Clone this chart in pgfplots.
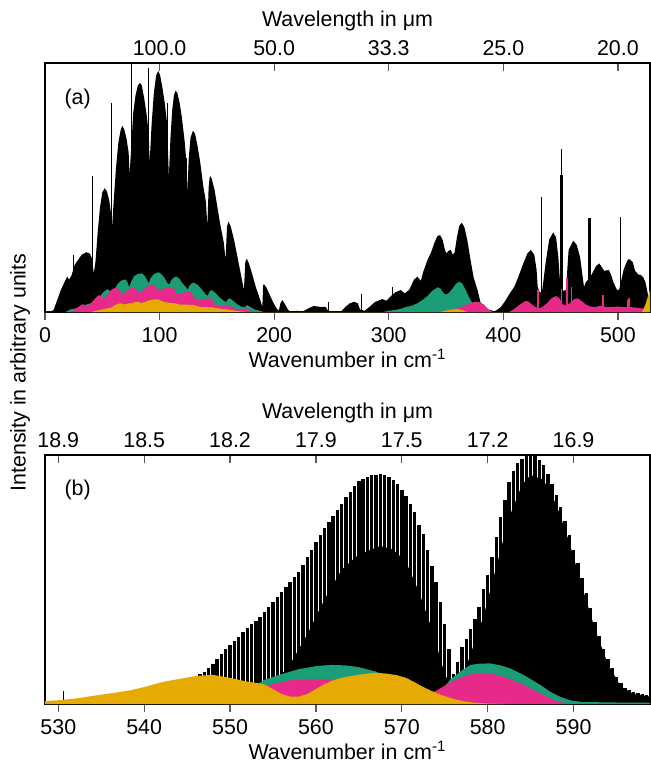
\documentclass[border=0pt]{standalone}
\usepackage{fontspec}
\setmainfont{Liberation Sans}
\usepackage{pgfplots}
\pgfplotsset{compat=1.18}

\definecolor{cgreen}{HTML}{1B9E77}
\definecolor{cpink}{HTML}{E7298A}
\definecolor{cgold}{HTML}{E6AB02}
\newcommand\fs{\fontsize{10.7}{12.8}\selectfont}

\pgfplotsset{
  panel/.style={
    scale only axis, width=302.5pt, height=124.5pt,
    ymin=0, ymax=1, ytick=\empty,
    xtick pos=bottom, tick align=outside,
    major tick length=4pt,
    tick style={black!65, line width=0.6pt},
    axis line style={line width=0.6pt},
    /pgf/number format/assume math mode=true,
    xlabel={Wavenumber in cm\textsuperscript{-1}},
    xlabel style={yshift=3.5pt},
  },
  toplam/.style={
    scale only axis, width=302.5pt, height=124.5pt,
    ymin=0, ymax=1,
    axis x line*=top, axis y line=none,
    tick align=inside, major tick length=4pt,
    tick style={black!65, line width=0.6pt},
    axis line style={line width=0.6pt},
    xlabel={Wavelength in μm},
    xlabel style={yshift=-2pt},
  },
}

\begin{document}
\begin{tikzpicture}[font=\fs]
\path[use as bounding box] (-22.5pt,31.5pt) rectangle (302.5pt,-349.5pt);

% ---- (a) ----
\begin{axis}[panel, at={(0,0)}, anchor=north west,
  xmin=0, xmax=528, xtick={0,100,200,300,400,500}]
% black
\addplot[fill=black, draw=none] coordinates {
(5,0) (7.7,0.01) (10,0.04) (14,0.09) (17,0.12) (19.4,0.142) (21,0.13) (23,0.145)
(26,0.19) (29,0.21) (32,0.23) (36,0.24) (39,0.235) (41,0.215) (42.6,0.155)
(44,0.2) (46,0.32) (48,0.42) (50,0.48) (52,0.497) (54,0.485) (56,0.45) (57.5,0.40)
(58,0.30) (60,0.45) (62,0.58) (64,0.68) (66,0.73) (67.4,0.748) (69,0.735) (71,0.70)
(73,0.64) (73.8,0.55) (75.5,0.68) (77,0.80) (79,0.87) (81,0.91) (82.8,0.92)
(84.5,0.91) (86.5,0.86) (88.5,0.80) (90.5,0.72) (91.3,0.597) (93,0.75) (95,0.88)
(97,0.95) (98.9,0.968) (100.5,0.95) (102.5,0.90) (104.5,0.84) (106.5,0.76)
(108.1,0.543) (109.5,0.70) (111,0.81) (112.5,0.87) (114,0.889) (115.5,0.88)
(117.5,0.84) (119.5,0.78) (122,0.68) (123.5,0.60) (124.2,0.477) (125.5,0.62)
(127,0.70) (129.1,0.728) (131,0.715) (133,0.67) (135.5,0.60) (138,0.51)
(140.5,0.44) (141.7,0.343) (142.8,0.50) (143.9,0.547) (145.5,0.535) (148,0.49)
(150.5,0.42) (153,0.35) (156,0.28) (157.6,0.209) (158.8,0.34) (160,0.363)
(162,0.345) (165,0.29) (168,0.22) (171,0.15) (173.6,0.088) (174.8,0.20)
(176,0.214) (178,0.195) (181,0.15) (184,0.10) (187,0.06) (189.7,0.021)
(190.3,0.105) (191,0.112) (193,0.10) (196,0.07) (199,0.04) (202,0.015)
(204,0.005) (205.5,0.035) (207,0.048) (209,0.035) (212,0.01) (214,0)
(220,0.005) (225,0.002) (230,0.015) (234.5,0.024) (238,0.022) (242,0.02)
(245,0.021) (247,0.005) (250,0) (258,0) (262,0.02) (266,0.035) (269.7,0.041)
(273,0.035) (275,0.01) (279,0.005) (283,0.02) (288,0.04) (294.5,0.052)
(298,0.045) (301,0.06) (306,0.08) (310.5,0.088) (314,0.075) (318,0.09)
(322,0.13) (325,0.142) (328,0.125) (330,0.16) (333.8,0.209) (337,0.24)
(340,0.28) (342.5,0.305) (344.8,0.309) (347,0.29) (349,0.25) (350.4,0.235)
(352,0.245) (354,0.25) (356,0.23) (357.5,0.24) (359.5,0.30) (361.5,0.345)
(363.8,0.359) (366,0.34) (368.5,0.29) (371,0.22) (374,0.14) (377.5,0.088)
(380,0.04) (382,0.02) (386,0.01) (389,0.008) (392,0.002) (395,0.01)
(397.8,0.02) (401,0.04) (405,0.07) (409.4,0.10) (413,0.14) (417,0.19)
(421,0.235) (424,0.249) (427,0.23) (429,0.17) (430,0.10) (432,0.076) (434,0.09)
(437,0.20) (440,0.29) (443.5,0.32) (446,0.30) (448,0.22) (449.5,0.12)
(452,0.085) (454.6,0.088) (457,0.25) (461,0.286) (464,0.27) (467,0.22)
(470.4,0.10) (472,0.12) (474,0.13) (477,0.15) (481,0.185) (483.7,0.195)
(486,0.18) (488,0.165) (492,0.169) (494,0.15) (496,0.12) (499,0.09)
(501,0.088) (505,0.17) (508,0.205) (509.6,0.213) (513,0.20) (515,0.165)
(518,0.15) (520,0.149) (522,0.14) (524,0.12) (526,0.075) (527,0.04) (528,0.03)
} \closedcycle;
\addplot[ycomb, black, line width=0.5pt] coordinates {
(25,0.23) (41.8,0.546) (58.1,0.84) (75.3,1.0) (90.7,0.98) (107.3,0.84)
(123.3,0.617) (247,0.04) (276,0.072) (303,0.10) (433,0.463) (450.8,0.653)
(502.6,0.383)
};
\addplot[ycomb, black, line width=1.5pt] coordinates {
(450.5,0.55) (475,0.376)
};
% green
\addplot[fill=cgreen, draw=none] coordinates {
(18,0) (22,0.01) (27,0.015) (32,0.02) (36,0.03) (40,0.035) (44,0.04) (47,0.055)
(50,0.075) (53,0.088) (54.9,0.091) (56.5,0.085) (58,0.06) (60,0.085) (63,0.11)
(66,0.125) (69.7,0.131) (71.5,0.125) (73.5,0.10) (75,0.12) (78,0.145) (81,0.153)
(84.3,0.155) (86.5,0.148) (89,0.13) (90.5,0.115) (92,0.135) (95,0.152)
(97.5,0.158) (99.4,0.159) (102,0.15) (104.5,0.135) (107,0.115) (108.5,0.11)
(110.5,0.13) (113,0.14) (114.6,0.142) (117,0.135) (120,0.115) (123,0.10)
(124.5,0.09) (126,0.105) (128,0.115) (130,0.118) (133,0.11) (137,0.09)
(140.5,0.07) (142,0.065) (144,0.085) (145.4,0.088) (148,0.08) (152,0.06)
(156,0.045) (158,0.04) (160,0.053) (161.4,0.055) (164,0.045) (168,0.03)
(172,0.02) (174.5,0.02) (176.6,0.028) (179,0.02) (183,0.01) (188,0.004) (191,0)
(295,0) (300,0.005) (305,0.008) (310,0.012) (315,0.02) (320,0.025) (325,0.035)
(330,0.05) (334,0.065) (338,0.085) (342.5,0.099) (345,0.095) (348,0.075)
(350,0.07) (352,0.075) (355,0.09) (358,0.11) (361.4,0.122) (364,0.115)
(367,0.09) (370,0.06) (373,0.035) (376,0.015) (380,0.003) (383,0)
(428,0) (433,0.01) (438,0.02) (443,0.03) (447,0.035) (450,0.03) (455,0.025)
(460,0.03) (465,0.02) (470,0.01) (480,0.01) (490,0.012) (500,0.01) (510,0.012)
(520,0.01) (525,0.01) (528,0.01)
} \closedcycle;
\addplot[ycomb, cgreen, line width=0.8pt] coordinates {
(450.8,0.093) (459.5,0.10) (509,0.05)
};
% pink
\addplot[fill=cpink, draw=none] coordinates {
(22,0) (26,0.01) (29,0.02) (32.5,0.031) (35,0.028) (37,0.025) (40,0.035)
(43,0.05) (46,0.065) (47.5,0.068) (49.5,0.06) (51,0.05) (53,0.06) (56,0.08)
(59,0.093) (62.4,0.098) (64.5,0.092) (66.5,0.075) (68,0.07) (71,0.085)
(74,0.093) (76.5,0.096) (78.2,0.096) (80,0.09) (82,0.075) (84,0.08) (87,0.095)
(90,0.105) (92,0.108) (94.2,0.11) (96.5,0.105) (98.5,0.09) (100,0.085)
(103,0.092) (106,0.098) (108,0.10) (110.2,0.10) (112.5,0.093) (114.5,0.075)
(116.5,0.07) (119,0.075) (122,0.08) (124.5,0.082) (126.5,0.082) (128.5,0.073)
(130.5,0.055) (133,0.05) (136,0.05) (139,0.052) (142,0.054) (144.5,0.055)
(146.5,0.045) (149,0.03) (152,0.025) (155,0.025) (158,0.027) (160.5,0.028)
(163,0.02) (167,0.012) (171,0.012) (175,0.015) (178,0.008) (183,0)
(345,0) (350,0.005) (355,0.01) (360,0.015) (363,0.02) (366,0.025) (370,0.033)
(374,0.04) (377.5,0.041) (380,0.038) (383,0.03) (386,0.015) (389,0.005) (391,0)
(405,0) (409,0.01) (413,0.025) (417,0.038) (419.7,0.045) (422,0.042) (425,0.03)
(428,0.02) (431,0.015) (434,0.02) (438,0.035) (442,0.055) (446,0.064)
(449,0.055) (452,0.03) (455,0.025) (458,0.035) (462,0.052) (464.8,0.055)
(468,0.045) (472,0.03) (476,0.022) (480,0.02) (485,0.025) (490,0.02)
(495,0.02) (500,0.022) (505,0.02) (510,0.02) (515,0.018) (520,0.015)
(525,0.012) (528,0.01)
} \closedcycle;
\addplot[ycomb, cpink, line width=1pt] coordinates {
(430,0.088) (455.2,0.135) (486.6,0.068) (510,0.055)
};
% gold
\addplot[fill=cgold, draw=none] coordinates {
(40,0) (45,0.005) (50,0.01) (55,0.015) (58,0.018) (60,0.025) (63,0.032)
(66,0.035) (69,0.03) (72,0.033) (76,0.037) (79,0.04) (81.7,0.04) (84,0.036)
(87,0.04) (91,0.047) (94,0.05) (98,0.051) (101,0.046) (104,0.04) (107,0.038)
(110,0.036) (114,0.035) (117,0.03) (121,0.03) (125,0.029) (130,0.028)
(134,0.022) (138,0.02) (142,0.02) (146,0.02) (150,0.015) (155,0.012) (160,0.01)
(165,0.006) (170,0.003) (175,0)
(345,0) (350,0.006) (355,0.01) (360,0.012) (365,0.006) (368,0)
(521,0) (524,0.03) (526,0.06) (528,0.088)
} \closedcycle;
\node at (rel axis cs:0.054,0.855) {(a)};
\end{axis}
\begin{axis}[toplam, at={(0,0)}, anchor=north west,
  xmin=0, xmax=528, xtick={100,200,300,400,500},
  xticklabels={100.0,50.0,33.3,25.0,20.0}]
\end{axis}

% ---- (b) ----
\begin{axis}[panel, at={(0,-196pt)}, anchor=north west,
  xmin=528.45, xmax=598.9, xtick={530,540,550,560,570,580,590}]
% black: dense core of the two bands
\addplot[fill=black, draw=none] coordinates {
(552,0) (555,0.08) (557,0.16) (559,0.28) (561,0.42) (563,0.54) (565,0.6)
(567.5,0.635) (569,0.62) (570.5,0.57) (572,0.45) (573.5,0.3) (575,0.12)
(576,0.05) (577,0.1) (578,0.2) (579.5,0.35) (581,0.55) (582.5,0.75)
(584,0.88) (585,0.92) (586.5,0.9) (588,0.8) (589.5,0.65) (591,0.47)
(592.5,0.3) (594,0.16) (595.5,0.07) (597,0.04) (598.9,0.03)
} \closedcycle;
% black: individual lines
\addplot[ycomb, black, line width=0.85pt] coordinates {(530.6,0.052)};
\addplot[ycomb, black, line width=1.7pt] coordinates {
(545.0,0.095) (545.5,0.105) (546.0,0.11) (546.5,0.12) (547.0,0.13)
(547.5,0.145) (548.0,0.16) (548.5,0.18) (549.0,0.20) (549.5,0.22)
(550.0,0.238) (550.5,0.255) (551.0,0.27) (551.5,0.29) (552.0,0.305)
(552.5,0.32) (553.0,0.335) (553.5,0.35) (554.0,0.37) (554.5,0.39)
(555.0,0.41) (555.5,0.43) (556.0,0.45) (556.5,0.47) (557.0,0.49)
(557.5,0.51) (558.0,0.53) (558.5,0.56) (559.0,0.59) (559.5,0.62)
(560.0,0.65) (560.5,0.68) (561.0,0.705) (561.5,0.73) (562.0,0.755)
(562.5,0.78) (563.0,0.805) (563.5,0.83) (564.0,0.85) (564.5,0.875)
(565.0,0.895) (565.5,0.905) (566.0,0.912) (566.5,0.918) (567.0,0.92)
(567.5,0.922) (568.0,0.918) (568.5,0.91) (569.0,0.90) (569.5,0.885)
(570.0,0.86) (570.5,0.835) (571.0,0.805) (571.5,0.77) (572.0,0.72)
(572.5,0.683) (573.0,0.62) (573.5,0.555) (574.0,0.49) (574.5,0.41)
(575.0,0.32) (575.5,0.22) (576.0,0.12) (576.5,0.17) (577.0,0.23)
(577.5,0.26) (578.0,0.30) (578.5,0.34) (579.0,0.39) (579.5,0.46)
(580.0,0.52) (580.5,0.59) (581.0,0.67) (581.5,0.75) (582.0,0.82)
(582.5,0.89) (583.0,0.935) (583.5,0.968) (584.0,0.985) (584.5,0.995)
(585.0,1.0) (585.5,0.995) (586.0,0.98) (586.5,0.96) (587.0,0.925)
(587.5,0.885) (588.0,0.84) (588.5,0.79) (589.0,0.735) (589.5,0.68)
(590.0,0.62) (590.5,0.565) (591.0,0.505) (591.5,0.445) (592.0,0.385)
(592.5,0.33) (593.0,0.275) (593.5,0.22) (594.0,0.18) (594.5,0.145)
(595.0,0.11) (595.5,0.085) (596.0,0.065) (596.5,0.056) (597.0,0.05)
(597.5,0.045) (598.0,0.04) (598.5,0.037)
};
\addplot[fill=cgreen, draw=none] coordinates {
(550,0) (552,0.05) (553.9,0.096) (556,0.12) (558,0.14) (560,0.152)
(561.7,0.157) (563.5,0.155) (565,0.148) (567,0.13) (569,0.10) (571,0.06)
(573,0.03) (574.5,0.05) (575.7,0.10) (577,0.135) (578,0.157) (579,0.162)
(580.3,0.163) (581.5,0.155) (582.6,0.143) (584,0.12) (585,0.10) (586.2,0.075)
(587.3,0.049) (588.5,0.028) (589.6,0.015) (591,0.008) (595,0.006) (598.9,0.005)
} \closedcycle;
\addplot[fill=cpink, draw=none] coordinates {
(549,0) (551,0.03) (553,0.06) (555,0.08) (557,0.095) (559,0.10) (561,0.10)
(563,0.09) (565,0.07) (567,0.05) (569,0.03) (571,0.02) (572.5,0.03)
(574.1,0.055) (575.3,0.08) (576.4,0.10) (578,0.119) (579.1,0.123)
(580.3,0.123) (581.5,0.113) (582.6,0.10) (584,0.08) (585,0.062) (586,0.045)
(586.9,0.028) (588,0.012) (588.8,0.005) (590,0)
} \closedcycle;
\addplot[fill=cgold, draw=none] coordinates {
(528.45,0.012) (530,0.015) (532,0.022) (534.5,0.035) (536.5,0.045)
(538.4,0.055) (540,0.068) (542.2,0.089) (544,0.10) (546.1,0.113) (548,0.117)
(550,0.105) (552,0.09) (553.9,0.08) (555,0.06) (556,0.04) (557,0.03)
(558,0.03) (559,0.04) (560,0.06) (561,0.08) (562,0.095) (563,0.105)
(564,0.112) (565.5,0.12) (566.7,0.125) (568,0.123) (569.4,0.116)
(570.5,0.105) (571.4,0.089) (572.3,0.072) (573.3,0.055) (574.3,0.04)
(575.3,0.028) (576.3,0.018) (577.2,0.011) (578.5,0.005) (580,0.002) (582,0)
} \closedcycle;
\node at (rel axis cs:0.054,0.858) {(b)};
\end{axis}
\begin{axis}[toplam, at={(0,-196pt)}, anchor=north west,
  xmin=528.45, xmax=598.9, xtick={530,540,550,560,570,580,590},
  xticklabels={18.9,18.5,18.2,17.9,17.5,17.2,16.9}]
\end{axis}

\node[rotate=90, inner sep=0pt] at (-12.5pt,-154.75pt) {Intensity in arbitrary units};
\end{tikzpicture}
\end{document}
